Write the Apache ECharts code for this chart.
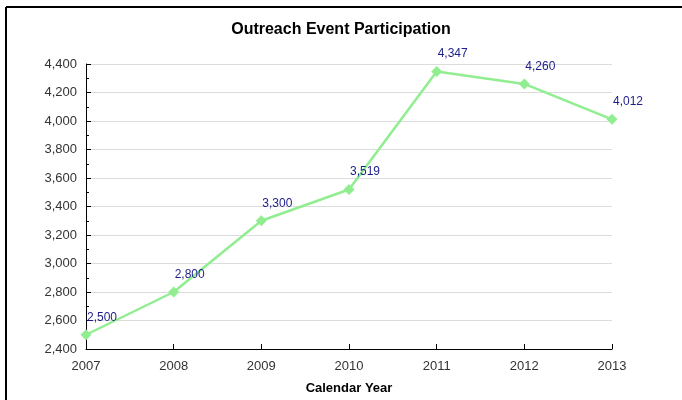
<!DOCTYPE html>
<html>
<head>
<meta charset="utf-8">
<script src="https://cdn.jsdelivr.net/npm/echarts@6/dist/echarts.min.js"></script>
<style>
  html, body { margin: 0; padding: 0; background: #fff; }
  #chart { width: 682px; height: 400px; }
</style>
</head>
<body>
<div id="chart"></div>
<script>
// data
const years = ['2007', '2008', '2009', '2010', '2011', '2012', '2013'];
const participants = [2500, 2800, 3300, 3519, 4347, 4260, 4012];
const yMin = 2400;
const yMax = 4400;
const yStep = 200;

const fmt = v => Number(v).toLocaleString('en-US');

const chart = echarts.init(document.getElementById('chart'), null, { renderer: 'canvas' });

chart.setOption({
  backgroundColor: '#fff',
  animation: false,
  textStyle: { fontFamily: 'Liberation Sans, Arial, sans-serif' },
  // frame is clipped: only top and left edges show
  graphic: [
    { type: 'line', shape: { x1: 6, y1: 7, x2: 682, y2: 7 }, style: { stroke: '#000', lineWidth: 2 } },
    { type: 'line', shape: { x1: 6, y1: 7, x2: 6, y2: 400 }, style: { stroke: '#000', lineWidth: 2 } }
  ],
  title: {
    text: 'Outreach Event Participation',
    left: 'center',
    top: 17,
    textStyle: { fontSize: 16, fontWeight: 'bold', color: '#000' }
  },
  grid: { left: 86, right: 70, top: 64, bottom: 50 },
  xAxis: {
    type: 'category',
    data: years,
    boundaryGap: false,
    name: 'Calendar Year',
    nameLocation: 'middle',
    nameGap: 33,
    nameTextStyle: { fontSize: 13, fontWeight: 'bold', color: '#000' },
    axisLine: { lineStyle: { color: '#000', width: 1 } },
    axisTick: { inside: true, length: 5, lineStyle: { color: '#000' } },
    axisLabel: { fontSize: 13, color: '#333', margin: 11 },
    splitLine: { show: false }
  },
  yAxis: {
    type: 'value',
    min: yMin,
    max: yMax,
    interval: yStep,
    axisLine: { show: true, lineStyle: { color: '#000', width: 1 } },
    axisTick: { show: true, inside: true, length: 5, lineStyle: { color: '#000' } },
    minorTick: { show: true, splitNumber: 2, length: 3, lineStyle: { color: '#000' } },
    axisLabel: { fontSize: 13, color: '#333', margin: 9, formatter: fmt },
    splitLine: { show: true, lineStyle: { color: '#dcdcdc', width: 1 } }
  },
  series: [{
    type: 'line',
    data: participants,
    symbol: 'diamond',
    symbolSize: 11,
    lineStyle: { color: '#90ee90', width: 2.5 },
    itemStyle: { color: '#90ee90' },
    label: {
      show: true,
      position: 'top',
      offset: [16, -1],
      fontSize: 12,
      color: '#1c1c8a',
      formatter: p => fmt(p.value)
    }
  }]
});
</script>
</body>
</html>
